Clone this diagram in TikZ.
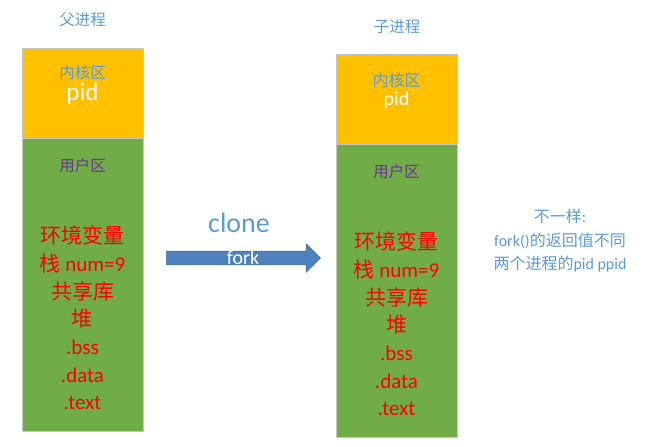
\documentclass[tikz,border=0pt]{standalone}
\usepackage{fontspec}
\setmainfont{Carlito}
\newfontfamily\cjk{Noto Sans CJK SC}
\usetikzlibrary{positioning,shapes.arrows}
\definecolor{kernyellow}{HTML}{FFC000}
\definecolor{usergreen}{HTML}{70AD47}
\definecolor{lightblue}{HTML}{5B9BD5}
\definecolor{zonepurple}{HTML}{7030A0}
\definecolor{arrowblue}{HTML}{4F81BD}
\definecolor{arrowedge}{HTML}{41719C}
\newcommand{\zh}[1]{{\cjk #1}}

\begin{document}
\begin{tikzpicture}[x=1pt,y=-1pt,
        area/.style={draw=gray!45,line width=0.8pt,minimum width=121pt,inner sep=0pt,outer sep=0pt},
        kernel/.style={area,fill=kernyellow,minimum height=90pt},
        user/.style={area,fill=usergreen,minimum height=293pt},
        title/.style={text=lightblue,font=\cjk\fontsize{15.5}{18}\selectfont},
        zone/.style={font=\cjk\fontsize{15.5}{18}\selectfont,inner sep=0pt},
        segments/.style={text=red,align=center,inner sep=0pt,font=\fontsize{21}{27.7}\selectfont}]
        \useasboundingbox (0,0) rectangle (656,447);
        % parent process
        \node[kernel,anchor=north west] (kern_p) at (22,48) {};
        \node[user,below=0pt of kern_p]  (user_p) {};
        \node[title]                     (title_p) at (82.5,20) {父进程};
        \node[zone,text=lightblue]       (kname_p) at ([yshift=-25pt]kern_p.north) {内核区};
        \node[text=white,inner sep=0pt,font=\fontsize{25}{28}\selectfont]
                                         (pid_p)   at ([yshift=-46pt]kern_p.north) {pid};
        \node[zone,text=zonepurple]      (uname_p) at ([yshift=-28pt]user_p.north) {用户区};
        \node[segments]                  (seg_p)   at ([yshift=-180pt]user_p.north)
              {\zh{环境变量}\\\zh{栈} num=9\\\zh{共享库}\\\zh{堆}\\.bss\\.data\\.text};
        % child process
        \node[kernel,anchor=north west] (kern_c) at (336,54) {};
        \node[user,below=0pt of kern_c]  (user_c) {};
        \node[title]                     (title_c) at (397,27) {子进程};
        \node[zone,text=lightblue,font=\cjk\fontsize{16}{18}\selectfont]
                                         (kname_c) at ([yshift=-26pt]kern_c.north) {内核区};
        \node[text=white,inner sep=0pt,font=\fontsize{20}{24}\selectfont]
                                         (pid_c)   at ([yshift=-46pt]kern_c.north) {pid};
        \node[zone,text=zonepurple]      (uname_c) at ([yshift=-28pt]user_c.north) {用户区};
        \node[segments]                  (seg_c)   at ([yshift=-180pt]user_c.north)
              {\zh{环境变量}\\\zh{栈} num=9\\\zh{共享库}\\\zh{堆}\\.bss\\.data\\.text};
        % fork arrow
        \node[single arrow,fill=arrowblue,draw=arrowedge,line width=0.6pt,
              minimum height=154pt,minimum width=28pt,inner xsep=0pt,inner ysep=6.5pt,
              single arrow head extend=7.5pt] (fork_arrow) at (240,258) {};
        \node[text=lightblue,font=\fontsize{28}{30}\selectfont] (clone) at (239,223) {clone};
        \node[text=white,inner sep=0pt,font=\fontsize{20}{22}\selectfont] (fork) at (243,258) {fork};
        % difference note
        \node[text=lightblue,align=center,font=\fontsize{16}{23.5}\selectfont] (note) at (560,241)
              {\zh{不一样}:\\fork()\zh{的返回值不同}\\\zh{两个进程的}pid ppid};
    \end{tikzpicture}
\end{document}
